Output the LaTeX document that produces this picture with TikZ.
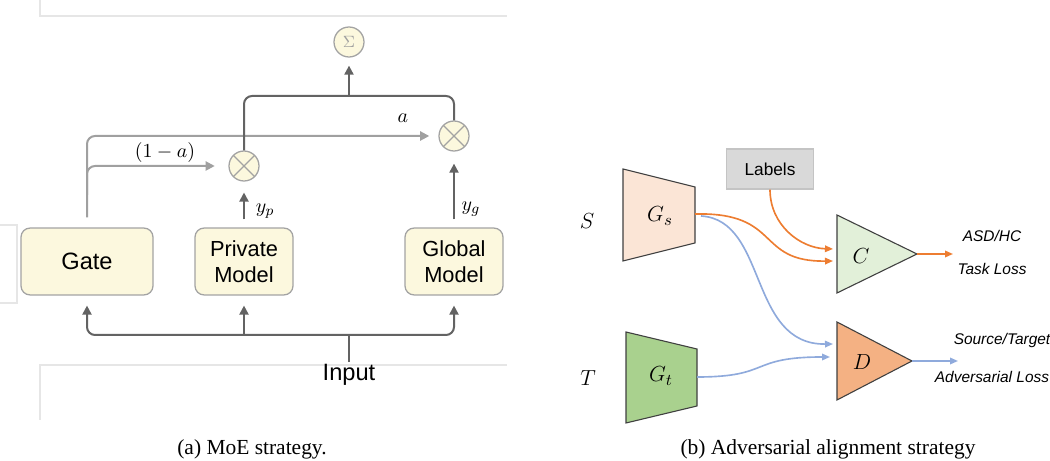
\documentclass[tikz,border=0pt]{standalone}
\usepackage{fontspec}
\setmainfont{Liberation Serif}
\setsansfont{Liberation Sans}
\usetikzlibrary{arrows.meta}
\definecolor{boxfill}{HTML}{FCF8DE}
\definecolor{boxline}{HTML}{A3A3A3}
\definecolor{darkline}{HTML}{636363}
\definecolor{lightline}{HTML}{A0A0A0}
\definecolor{framegray}{HTML}{E6E6E6}
\definecolor{gsfill}{HTML}{FBE5D6}
\definecolor{gtfill}{HTML}{A9D18E}
\definecolor{cfill}{HTML}{E2F0D9}
\definecolor{dfill}{HTML}{F4B183}
\definecolor{lblfill}{HTML}{D9D9D9}
\definecolor{lblline}{HTML}{C4C4C4}
\definecolor{orangeline}{HTML}{ED7D31}
\definecolor{blueline}{HTML}{8FAADC}
\begin{document}
\begin{tikzpicture}[x=0.55pt,y=-0.55pt,
  model/.style={draw=boxline,fill=boxfill,rounded corners=5pt,line width=0.7pt,align=center,
    minimum height=36.8pt,font=\sffamily\fontsize{12}{14}\selectfont},
  prod/.style={circle,draw=boxline,fill=boxfill,line width=0.7pt,minimum size=16.5pt,inner sep=0pt,
    path picture={\draw[boxline,line width=0.7pt] (path picture bounding box.north west) -- (path picture bounding box.south east)
      (path picture bounding box.north east) -- (path picture bounding box.south west);}},
  darrow/.style={draw=darkline,line width=1.1pt,-{Triangle[length=5pt,width=5pt]}},
  larrow/.style={draw=lightline,line width=1.1pt,-{Triangle[length=5pt,width=5pt]}},
  oarrow/.style={draw=orangeline,line width=0.9pt,-{Triangle[length=4.4pt,width=3.6pt]}},
  barrow/.style={draw=blueline,line width=0.9pt,-{Triangle[length=4.4pt,width=3.6pt]}},
  block/.style={draw=black!75,line width=0.6pt},
  mathlbl/.style={font=\fontsize{11}{13}\selectfont},
  italbl/.style={font=\sffamily\itshape\fontsize{8.5}{10}\selectfont}]
\useasboundingbox (0,0) rectangle (1050,461);
% screenshot frame left over in panel (a)
\draw[framegray,line width=0.8pt] (40,0) -- (40,16) -- (507,16);
\draw[framegray,line width=0.8pt] (0,225) -- (17,225) -- (17,303) -- (0,303);
\draw[framegray,line width=0.8pt] (507,365) -- (40,365) -- (40,420);
% (a) MoE
\node[model,minimum width=72.6pt,font=\sffamily\fontsize{13}{15}\selectfont] (gate) at (87,261.5) {Gate};
\node[model,minimum width=53.9pt] (private) at (244,261.5) {Private\\Model};
\node[model,minimum width=53.9pt] (global) at (454,261.5) {Global\\Model};
\node[prod] (pprod) at (244,166) {};
\node[prod] (gprod) at (454,136) {};
\node[circle,draw=boxline,fill=boxfill,line width=0.7pt,minimum size=16.5pt,inner sep=0pt,
  font=\fontsize{9}{10}\selectfont,text=lightline] (sigma) at (349,42) {$\Sigma$};
\node[font=\sffamily\fontsize{13}{15}\selectfont,inner sep=1pt] (input) at (349,375) {Input};
\coordinate (bus) at (349,335);
\draw[darkline,line width=1.1pt] (input.north) -- (bus);
\draw[darrow,rounded corners=4.4pt] (bus) -| ([yshift=-5.5pt]gate.south);
\draw[darrow,rounded corners=4.4pt] (bus) -| ([yshift=-5.5pt]global.south);
\draw[darrow] (private.south |- bus) -- ([yshift=-5.5pt]private.south);
\draw[larrow,rounded corners=4.4pt] ([yshift=5.5pt]gate.north) |- ([xshift=-5pt]gprod.west);
\coordinate (split) at (gate.north |- 0,195);
\draw[larrow,rounded corners=4.4pt] (split) |- ([xshift=-7.5pt]pprod.west);
\draw[darrow] ([yshift=4.4pt]private.north) -- ([yshift=-6pt]pprod.south);
\draw[darrow] ([yshift=4.4pt]global.north) -- ([yshift=-6.6pt]gprod.south);
\coordinate (join) at (sigma |- 0,96);
\draw[darkline,line width=1.1pt,rounded corners=4.4pt] (pprod.north) |- (join) -| (gprod.north);
\draw[darrow] (join) -- ([yshift=-4.4pt]sigma.south);
\node[mathlbl] (alpha) at (403,118) {$a$};
\node[mathlbl] (oneminus) at (165,153) {$(1-a)$};
\node[mathlbl] (yp) at (265,211) {$y_p$};
\node[mathlbl] (yg) at (471,209) {$y_g$};
\node[font=\fontsize{11.8}{14}\selectfont] (capa) at (252,449) {(a) MoE strategy.};
% (b) adversarial alignment
\draw[block,fill=gsfill] (623,169) -- (695,187) -- (695,243) -- (623,261) -- cycle;
\draw[block,fill=gtfill] (626,332) -- (697,349) -- (697,406) -- (626,423) -- cycle;
\draw[block,fill=cfill] (837,215) -- (917,254) -- (837,293) -- cycle;
\draw[block,fill=dfill] (837,322) -- (912,361) -- (837,400) -- cycle;
\node[font=\fontsize{12.5}{14}\selectfont] (gs) at (660,216) {$G_s$};
\node[font=\fontsize{12.5}{14}\selectfont] (gt) at (661,376) {$G_t$};
\node[font=\fontsize{12}{14}\selectfont] (cls) at (861,256) {$C$};
\node[font=\fontsize{12}{14}\selectfont] (dis) at (862,362) {$D$};
\node[font=\fontsize{12}{14}\selectfont] (src) at (587,221) {$S$};
\node[font=\fontsize{12}{14}\selectfont] (tgt) at (588,378) {$T$};
\node[draw=lblline,fill=lblfill,line width=0.6pt,minimum width=47.9pt,minimum height=22pt,
  font=\sffamily\fontsize{9.5}{11}\selectfont] (labels) at (770,169) {Labels};
\coordinate (gs-out) at (695,214);
\coordinate (gs-out2) at (701,216);
\coordinate (gt-out) at (697,377);
\coordinate (c-in1) at (833,249);
\coordinate (c-in2) at (833,261);
\coordinate (d-in1) at (833,344);
\coordinate (d-in2) at (830,357);
\coordinate (c-out) at (917,254);
\coordinate (d-out) at (912,361);
\coordinate (c-end) at (953,254);
\coordinate (d-end) at (958,361);
\draw[oarrow] (labels.south) .. controls (770,225) and (800,248) .. (c-in1);
\draw[oarrow] (gs-out) .. controls (782,212) and (755,262) .. (c-in2);
\draw[barrow] (gs-out2) .. controls (768,220) and (748,345) .. (d-in1);
\draw[barrow] (gt-out) .. controls (772,377) and (748,357) .. (d-in2);
\draw[oarrow] (c-out) -- (c-end);
\draw[barrow] (d-out) -- (d-end);
\node[italbl] (task) at (992,236) {ASD/HC};
\node[italbl] (taskloss) at (992,269) {Task Loss};
\node[italbl] (domain) at (1002,341) {Source/Target};
\node[italbl] (advloss) at (992,377) {Adversarial Loss};
\node[font=\fontsize{11.8}{14}\selectfont] (capb) at (828,449) {(b) Adversarial alignment strategy};
\end{tikzpicture}
\end{document}
